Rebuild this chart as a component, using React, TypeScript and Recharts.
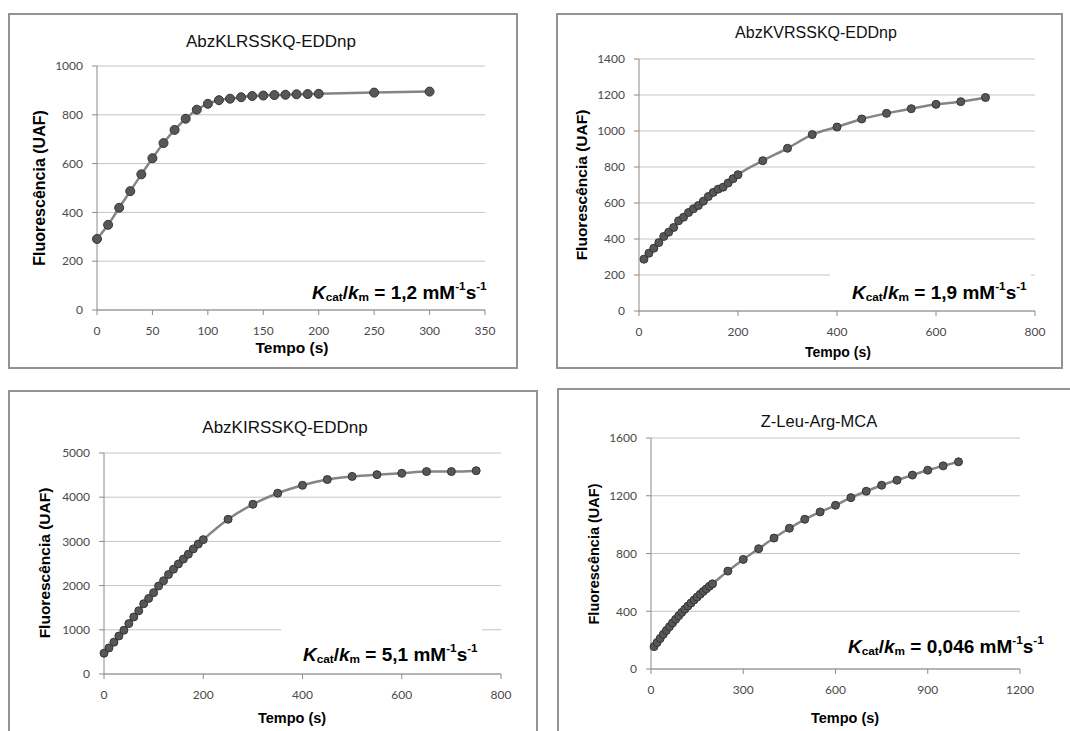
import React from 'react';
import { LineChart, Line, XAxis, YAxis, CartesianGrid } from 'recharts';

// AbzKLRSSKQ-EDDnp
const tempo1 = [0, 10, 20, 30, 40, 50, 60, 70, 80, 90, 100, 110, 120, 130, 140, 150, 160, 170, 180, 190, 200, 250, 300];
const fluor1 = [291, 349, 419, 487, 556, 622, 684, 738, 784, 821, 845, 860, 866, 872, 877, 879, 881, 882, 884, 885, 886, 891, 895];
const xTicks1 = [0, 50, 100, 150, 200, 250, 300, 350];
const yTicks1 = [0, 200, 400, 600, 800, 1000];

// AbzKVRSSKQ-EDDnp
const tempo2 = [10, 20, 30, 40, 50, 60, 70, 80, 90, 100, 110, 120, 130, 140, 150, 160, 170, 180, 190, 200, 250, 300, 350, 400, 450, 500, 550, 600, 650, 700];
const fluor2 = [288, 321, 349, 380, 414, 438, 464, 501, 521, 547, 568, 586, 610, 636, 659, 677, 688, 711, 735, 757, 835, 904, 980, 1022, 1067, 1098, 1124, 1148, 1163, 1186];
const xTicks2 = [0, 200, 400, 600, 800];
const yTicks2 = [0, 200, 400, 600, 800, 1000, 1200, 1400];

// AbzKIRSSKQ-EDDnp
const tempo3 = [0, 10, 20, 30, 40, 50, 60, 70, 80, 90, 100, 110, 120, 130, 140, 150, 160, 170, 180, 190, 200, 250, 300, 350, 400, 450, 500, 550, 600, 650, 700, 750];
const fluor3 = [470, 590, 720, 860, 990, 1140, 1290, 1430, 1590, 1710, 1840, 1990, 2110, 2250, 2370, 2490, 2600, 2710, 2830, 2940, 3040, 3500, 3840, 4090, 4270, 4400, 4470, 4510, 4540, 4580, 4580, 4600];
const xTicks3 = [0, 200, 400, 600, 800];
const yTicks3 = [0, 1000, 2000, 3000, 4000, 5000];

// Z-Leu-Arg-MCA
const tempo4 = [10, 20, 30, 40, 50, 60, 70, 80, 90, 100, 110, 120, 130, 140, 150, 160, 170, 180, 190, 200, 250, 300, 350, 400, 450, 500, 550, 600, 650, 700, 750, 800, 850, 900, 950, 1000];
const fluor4 = [155, 184, 212, 240, 267, 293, 319, 344, 368, 392, 414, 436, 457, 478, 498, 518, 537, 555, 573, 590, 678, 759, 833, 907, 975, 1037, 1088, 1134, 1187, 1231, 1273, 1308, 1343, 1377, 1407, 1435];
const xTicks4 = [0, 300, 600, 900, 1200];
const yTicks4 = [0, 400, 800, 1200, 1600];

const toRows = (t: number[], v: number[]) => t.map((x, i) => ({ t: x, v: v[i] }));

type Rect = { l: number; t: number; r: number; b: number };
type Pt = { x: number; y: number };

const Y_W = 50;
const X_H = 30;

const Kcat = ({ value }: { value: string }) => (
  <b>
    <i>K</i>
    <span style={{ fontSize: '0.62em', verticalAlign: '-0.15em' }}>cat</span>/<i>k</i>
    <span style={{ fontSize: '0.62em', verticalAlign: '-0.15em' }}>m</span> = {value} mM
    <span style={{ fontSize: '0.62em', verticalAlign: '0.75em' }}>-1</span>s
    <span style={{ fontSize: '0.62em', verticalAlign: '0.75em' }}>-1</span>
  </b>
);

function Panel(props: {
  box: Rect; plot: Rect; rows: { t: number; v: number }[];
  xTicks: number[]; yTicks: number[];
  title: string; titlePos: Pt; titleSize: number;
  yLabelPos: Pt; yLabelSize: number;
  xLabelPos: Pt; xLabelSize: number;
  kValue: string; kPos: Pt; kSize: number; dotR: number;
}) {
  const { box, plot } = props;
  const w = box.r - box.l;
  const h = box.b - box.t;
  const margin = {
    left: plot.l - box.l - Y_W,
    top: plot.t - box.t,
    right: box.r - plot.r,
    bottom: box.b - plot.b - X_H,
  };
  const xMax = props.xTicks[props.xTicks.length - 1];
  const yMax = props.yTicks[props.yTicks.length - 1];
  const tickStyle = { fontFamily: 'Lato, sans-serif', fontSize: 12, fill: '#4a4a4a' };
  const center: React.CSSProperties = { position: 'absolute', transform: 'translate(-50%, -50%)', whiteSpace: 'nowrap' };
  return (
    <>
      <div style={{ position: 'absolute', left: box.l, top: box.t, width: w, height: h, border: '2px solid #939393', boxSizing: 'border-box' }} />
      <div style={{ position: 'absolute', left: box.l, top: box.t }}>
        <LineChart width={w} height={h} data={props.rows} margin={margin}>
          <CartesianGrid vertical={false} stroke="#c4c4c4" />
          <XAxis type="number" dataKey="t" domain={[0, xMax]} ticks={props.xTicks} interval={0} height={X_H}
            tick={tickStyle} tickSize={5} tickMargin={11} stroke="#8a8a8a" />
          <YAxis type="number" domain={[0, yMax]} ticks={props.yTicks} interval={0} width={Y_W}
            tick={tickStyle} tickSize={5} tickMargin={9} stroke="#8a8a8a" />
          <Line type="monotone" dataKey="v" stroke="#858585" strokeWidth={2.5} isAnimationActive={false}
            dot={{ r: props.dotR, fill: '#575757', stroke: '#353535', strokeWidth: 1 }} />
        </LineChart>
      </div>
      <div style={{ ...center, left: props.titlePos.x, top: props.titlePos.y, fontSize: props.titleSize, color: '#111' }}>{props.title}</div>
      <div style={{ ...center, left: props.yLabelPos.x, top: props.yLabelPos.y, fontSize: props.yLabelSize, fontWeight: 'bold', transform: 'translate(-50%, -50%) rotate(-90deg)' }}>Fluorescência (UAF)</div>
      <div style={{ ...center, left: props.xLabelPos.x, top: props.xLabelPos.y, fontSize: props.xLabelSize, fontWeight: 'bold' }}>Tempo (s)</div>
      <div style={{ position: 'absolute', left: props.kPos.x - 22, top: props.kPos.y - 19, height: 36, lineHeight: '38px', paddingLeft: 22, paddingRight: 4, background: '#fff', fontSize: props.kSize, whiteSpace: 'nowrap' }}>
        <Kcat value={props.kValue} />
      </div>
    </>
  );
}

export default function App() {
  return (
    <div style={{ position: 'relative', width: 1070, height: 731, overflow: 'hidden', background: '#fff', fontFamily: '"Liberation Sans", Arial, sans-serif', color: '#000' }}>
      <style>{'body{margin:0}'}</style>
      <Panel box={{ l: 8, t: 13, r: 518, b: 369 }} plot={{ l: 97, t: 66, r: 485, b: 310 }} rows={toRows(tempo1, fluor1)}
        xTicks={xTicks1} yTicks={yTicks1} title="AbzKLRSSKQ-EDDnp" titlePos={{ x: 271, y: 42 }} titleSize={17}
        yLabelPos={{ x: 40, y: 188 }} yLabelSize={16} xLabelPos={{ x: 292, y: 348 }} xLabelSize={15.5}
        kValue="1,2" kPos={{ x: 312, y: 286 }} kSize={19} dotR={4.5} />
      <Panel box={{ l: 556, t: 13, r: 1063, b: 369 }} plot={{ l: 639, t: 59, r: 1035, b: 311 }} rows={toRows(tempo2, fluor2)}
        xTicks={xTicks2} yTicks={yTicks2} title="AbzKVRSSKQ-EDDnp" titlePos={{ x: 816, y: 33 }} titleSize={16}
        yLabelPos={{ x: 582, y: 185 }} yLabelSize={15.5} xLabelPos={{ x: 838, y: 352 }} xLabelSize={14}
        kValue="1,9" kPos={{ x: 852, y: 286 }} kSize={19} dotR={4} />
      <Panel box={{ l: 8, t: 390, r: 538, b: 760 }} plot={{ l: 104, t: 453, r: 501, b: 674 }} rows={toRows(tempo3, fluor3)}
        xTicks={xTicks3} yTicks={yTicks3} title="AbzKIRSSKQ-EDDnp" titlePos={{ x: 285, y: 428 }} titleSize={17}
        yLabelPos={{ x: 45, y: 563 }} yLabelSize={15.5} xLabelPos={{ x: 292, y: 718 }} xLabelSize={14.5}
        kValue="5,1" kPos={{ x: 303, y: 648 }} kSize={19} dotR={4} />
      <Panel box={{ l: 557, t: 388, r: 1080, b: 760 }} plot={{ l: 651, t: 438, r: 1020, b: 669 }} rows={toRows(tempo4, fluor4)}
        xTicks={xTicks4} yTicks={yTicks4} title="Z-Leu-Arg-MCA" titlePos={{ x: 819, y: 421 }} titleSize={16.5}
        yLabelPos={{ x: 594, y: 554 }} yLabelSize={14.5} xLabelPos={{ x: 845, y: 718 }} xLabelSize={14.5}
        kValue="0,046" kPos={{ x: 848, y: 640 }} kSize={19} dotR={4} />
    </div>
  );
}
